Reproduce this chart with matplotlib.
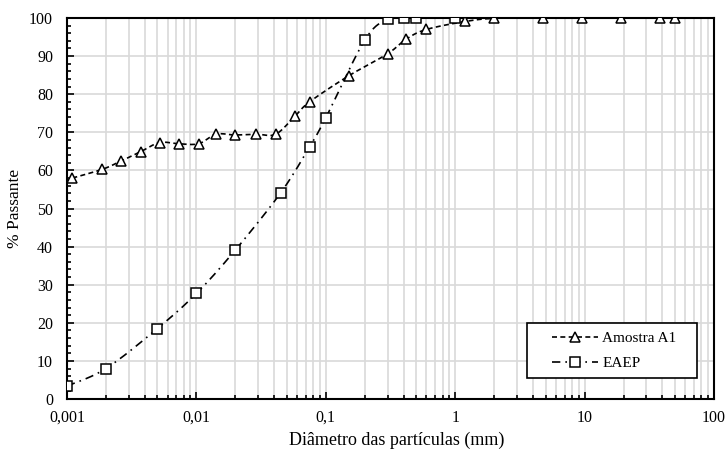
import numpy as np
import matplotlib
matplotlib.use("Agg")
import matplotlib.pyplot as plt
from matplotlib.patches import Rectangle
from matplotlib.ticker import FixedLocator, FixedFormatter, LogLocator, MultipleLocator, NullFormatter

# Amostra A1 (triangulos)
a1_d = [0.0011, 0.00188, 0.00263, 0.0037, 0.0052, 0.0073, 0.0104, 0.0142, 0.02, 0.029,
        0.041, 0.058, 0.075, 0.15, 0.3, 0.42, 0.6, 1.2, 2.0, 4.75, 9.5, 19, 38, 50]
a1_p = [58.0, 60.3, 62.5, 64.9, 67.3, 67.0, 67.0, 69.5, 69.3, 69.5,
        69.5, 74.3, 78.0, 84.8, 90.6, 94.5, 97.0, 99.1, 99.9, 100, 100, 100, 100, 100]

# EAEP (quadrados)
eaep_d = [0.001, 0.002, 0.005, 0.01, 0.02, 0.045, 0.075, 0.1, 0.2, 0.3, 0.4, 0.5, 1.0]
eaep_p = [3.4, 8.0, 18.5, 27.7, 39.1, 54.2, 66.2, 73.8, 94.2, 99.7, 100, 100, 100]

xticks = [0.001, 0.01, 0.1, 1, 10, 100]
xlabels = ["0,001", "0,01", "0,1", "1", "10", "100"]


def smooth(xs, ys, n=20):
    # curva suavizada tipo Excel (Catmull-Rom em log x)
    lx = np.log10(xs)
    pts = np.column_stack([lx, ys])
    out = []
    for i in range(len(pts) - 1):
        p0 = pts[i - 1] if i > 0 else pts[i]
        p1, p2 = pts[i], pts[i + 1]
        p3 = pts[i + 2] if i + 2 < len(pts) else pts[i + 1]
        c1 = p1 + (p2 - p0) / 6
        c2 = p2 - (p3 - p1) / 6
        t = np.linspace(0, 1, n)[:, None]
        seg = (1 - t) ** 3 * p1 + 3 * (1 - t) ** 2 * t * c1 + 3 * (1 - t) * t ** 2 * c2 + t ** 3 * p2
        out.append(seg if i == 0 else seg[1:])
    out = np.vstack(out)
    return 10 ** out[:, 0], out[:, 1]


plt.rcParams['font.family'] = ['Liberation Serif', 'DejaVu Serif']

fig = plt.figure(figsize=(7.25, 4.5), dpi=100)
ax = fig.add_axes([0.0924, 0.1133, 0.8924, 0.8467])

sx, sy = smooth(a1_d, a1_p)
ax.plot(sx, sy, color="black", lw=1.2, dashes=(3, 2), zorder=3)
ax.plot(a1_d, a1_p, ls="none", marker="^", ms=7.5, mfc="white", mec="black", mew=1.1, zorder=4)

sx, sy = smooth(eaep_d, eaep_p)
ax.plot(sx, sy, color="black", lw=1.2, dashes=(5, 3, 1, 3), zorder=3)
ax.plot(eaep_d, eaep_p, ls="none", marker="s", ms=7, mfc="white", mec="black", mew=1.1, zorder=4)

# caixa da legenda desenhada a parte
ax.add_patch(Rectangle((0.711, 0.055), 0.263, 0.144, transform=ax.transAxes,
                       facecolor="white", edgecolor="black", lw=1.2, zorder=6))
h1, = ax.plot([], [], color="black", lw=1.2, dashes=(3, 2), marker="^", ms=7, mfc="white", mec="black", mew=1.1)
h2, = ax.plot([], [], color="black", lw=1.2, dashes=(5, 3, 1, 3), marker="s", ms=7, mfc="white", mec="black", mew=1.1)
leg = ax.legend([h1, h2], ["Amostra A1", "EAEP"], loc="center left", bbox_to_anchor=(0.7496, 0.127),
                borderaxespad=0, borderpad=0, frameon=False, fontsize=11,
                handlelength=3.0, labelspacing=0.75, handletextpad=0.3)
leg.set_zorder(7)

ax.set_xscale("log")
ax.set_xlim(0.001, 100)
ax.set_ylim(0, 100)
ax.xaxis.set_major_locator(FixedLocator(xticks))
ax.xaxis.set_major_formatter(FixedFormatter(xlabels))
ax.xaxis.set_minor_locator(LogLocator(base=10, subs=np.arange(2, 10), numticks=20))
ax.xaxis.set_minor_formatter(NullFormatter())
ax.yaxis.set_major_locator(MultipleLocator(10))
ax.yaxis.set_minor_locator(MultipleLocator(2))

ax.grid(True, which="both", axis="x", color="#d9d9d9", lw=1.2, zorder=0)
ax.grid(True, which="major", axis="y", color="#d9d9d9", lw=1.2, zorder=0)
ax.set_axisbelow(True)

ax.tick_params(which="both", direction="in", labelsize=11.5, width=1.2)
ax.tick_params(which="major", length=5)
ax.tick_params(which="minor", length=3)
ax.tick_params(axis="x", which="major", pad=8)
ax.tick_params(axis="y", which="major", pad=10)
for s in ax.spines.values():
    s.set_linewidth(1.5)
    s.set_color("black")

ax.set_xlabel("Diâmetro das partículas (mm)", fontsize=13)
ax.set_ylabel("% Passante", fontsize=12.5)
ax.yaxis.set_label_coords(-0.068, 0.5)
ax.xaxis.set_label_coords(0.51, -0.108)
ax.xaxis.label.set_va("center")

fig.savefig("out.png", dpi=100)
